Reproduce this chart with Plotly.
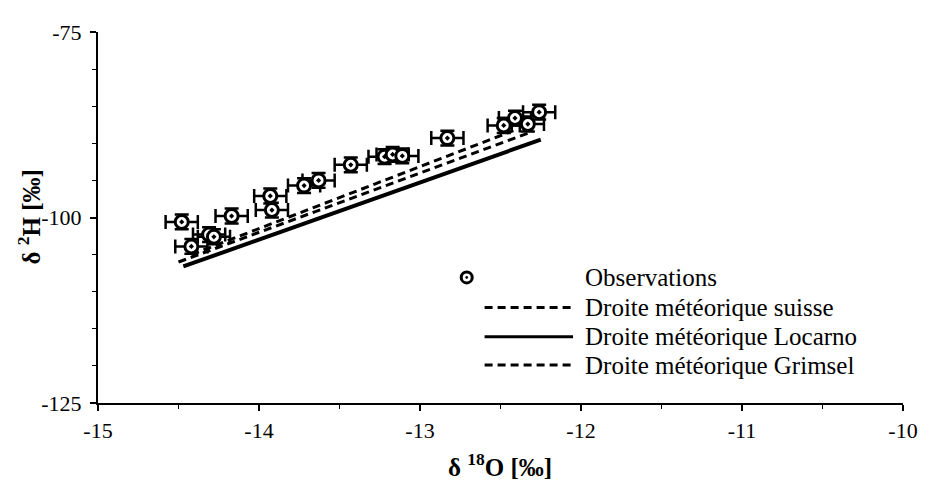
import plotly.graph_objects as go

# Observations (delta 18O, delta 2H)
obs_d18O = [-14.48, -14.42, -14.31, -14.28, -14.17, -13.93, -13.92, -13.72, -13.63,
            -13.43, -13.22, -13.17, -13.11, -12.83, -12.48, -12.41, -12.33, -12.26]
obs_d2H = [-100.6, -103.9, -102.3, -102.6, -99.8, -97.1, -99.0, -95.7, -95.0,
           -92.9, -91.8, -91.5, -91.7, -89.3, -87.6, -86.6, -87.4, -85.8]
err_d18O = 0.1
err_d2H = 1.0

# Meteoric water lines (end points)
suisse_x = [-14.50, -12.30]
suisse_y = [-106.0, -88.4]
locarno_x = [-14.47, -12.25]
locarno_y = [-106.6, -89.5]
grimsel_x = [-14.42, -12.42]
grimsel_y = [-105.0, -88.3]

x_ticks = [-15, -14, -13, -12, -11, -10]
y_ticks = [-125, -100, -75]

FONT = "Liberation Serif"

fig = go.Figure()
fig.add_trace(go.Scatter(x=suisse_x, y=suisse_y, mode="lines",
                         line=dict(color="black", width=3, dash="8px,5px"),
                         name="Droite météorique suisse"))
fig.add_trace(go.Scatter(x=grimsel_x, y=grimsel_y, mode="lines",
                         line=dict(color="black", width=3, dash="8px,5px"),
                         name="Droite météorique Grimsel"))
fig.add_trace(go.Scatter(x=locarno_x, y=locarno_y, mode="lines",
                         line=dict(color="black", width=4),
                         name="Droite météorique Locarno"))
fig.add_trace(go.Scatter(
    x=obs_d18O, y=obs_d2H, mode="markers", name="Observations",
    marker=dict(symbol="circle-dot", size=13, color="white",
                line=dict(color="black", width=3)),
    error_x=dict(type="constant", value=err_d18O, color="black", thickness=2.5, width=7),
    error_y=dict(type="constant", value=err_d2H, color="black", thickness=2.5, width=7),
))

# page offset (body margin) compensation: page plot area 98..908 x 22..403
OFF = 8
L, R, T, B = 98, 908, 22, 403
W, H = 930 - OFF, 487 - OFF


def px(x):
    return (x - L) / (R - L)


def py(y):
    return (B - y) / (B - T)


shapes = []
annotations = []
mx, my = 469, 274
shapes.append(dict(type="circle", xref="paper", yref="paper", xsizemode="pixel",
                   ysizemode="pixel", xanchor=px(mx), yanchor=py(my),
                   x0=-5.5, x1=5.5, y0=-5.5, y1=5.5,
                   line=dict(color="black", width=3), fillcolor="white"))
shapes.append(dict(type="circle", xref="paper", yref="paper", xsizemode="pixel",
                   ysizemode="pixel", xanchor=px(mx), yanchor=py(my),
                   x0=-1, x1=1, y0=-1, y1=1,
                   line=dict(color="black", width=1), fillcolor="black"))
legend_rows = [("Observations", 274, None),
               ("Droite météorique suisse", 305, dict(color="black", width=3, dash="8px,5px")),
               ("Droite météorique Locarno", 335, dict(color="black", width=3)),
               ("Droite météorique Grimsel", 364, dict(color="black", width=3, dash="8px,5px"))]
for text, yy, ln in legend_rows:
    if ln is not None:
        shapes.append(dict(type="line", xref="paper", yref="paper",
                           x0=px(487), x1=px(576), y0=py(yy), y1=py(yy), line=ln))
    annotations.append(dict(xref="paper", yref="paper", x=px(586), y=py(yy),
                            text=text, showarrow=False, xanchor="left", yanchor="middle",
                            font=dict(family=FONT, size=25, color="black")))

# axis titles
annotations.append(dict(xref="paper", yref="paper", x=px(29), y=py(212),
                        text="<b>δ <sup>2</sup>H [‰]</b>", textangle=-90, showarrow=False,
                        xanchor="center", yanchor="middle",
                        font=dict(family=FONT, size=25, color="black")))
annotations.append(dict(xref="paper", yref="paper", x=px(502), y=py(467),
                        text="<b>δ <sup>18</sup>O [‰]</b>", showarrow=False,
                        xanchor="center", yanchor="middle",
                        font=dict(family=FONT, size=25, color="black")))

fig.update_layout(
    width=W, height=H,
    margin=dict(l=L - OFF, r=930 - R, t=T - OFF, b=487 - B, pad=0),
    paper_bgcolor="white", plot_bgcolor="white",
    showlegend=False,
    font=dict(family=FONT, size=22, color="black"),
    shapes=shapes, annotations=annotations,
)
fig.update_xaxes(range=[-15, -10], tickvals=x_ticks, ticktext=[str(v) for v in x_ticks],
                 showgrid=False, zeroline=False, showline=True, linecolor="black", linewidth=2,
                 ticks="outside", ticklen=6, tickwidth=1.5, tickcolor="black",
                 minor=dict(dtick=0.5, ticks="outside", ticklen=4, tickwidth=1, tickcolor="black"),
                 tickfont=dict(family=FONT, size=22), ticklabelstandoff=1)
fig.update_yaxes(range=[-125, -75], tickvals=y_ticks, ticktext=[str(v) for v in y_ticks],
                 showgrid=False, zeroline=False, showline=True, linecolor="black", linewidth=2,
                 ticks="outside", ticklen=6, tickwidth=1.5, tickcolor="black",
                 minor=dict(dtick=5, ticks="outside", ticklen=4, tickwidth=1, tickcolor="black"),
                 tickfont=dict(family=FONT, size=22), ticklabelstandoff=4)

fig.write_html("out.html")
